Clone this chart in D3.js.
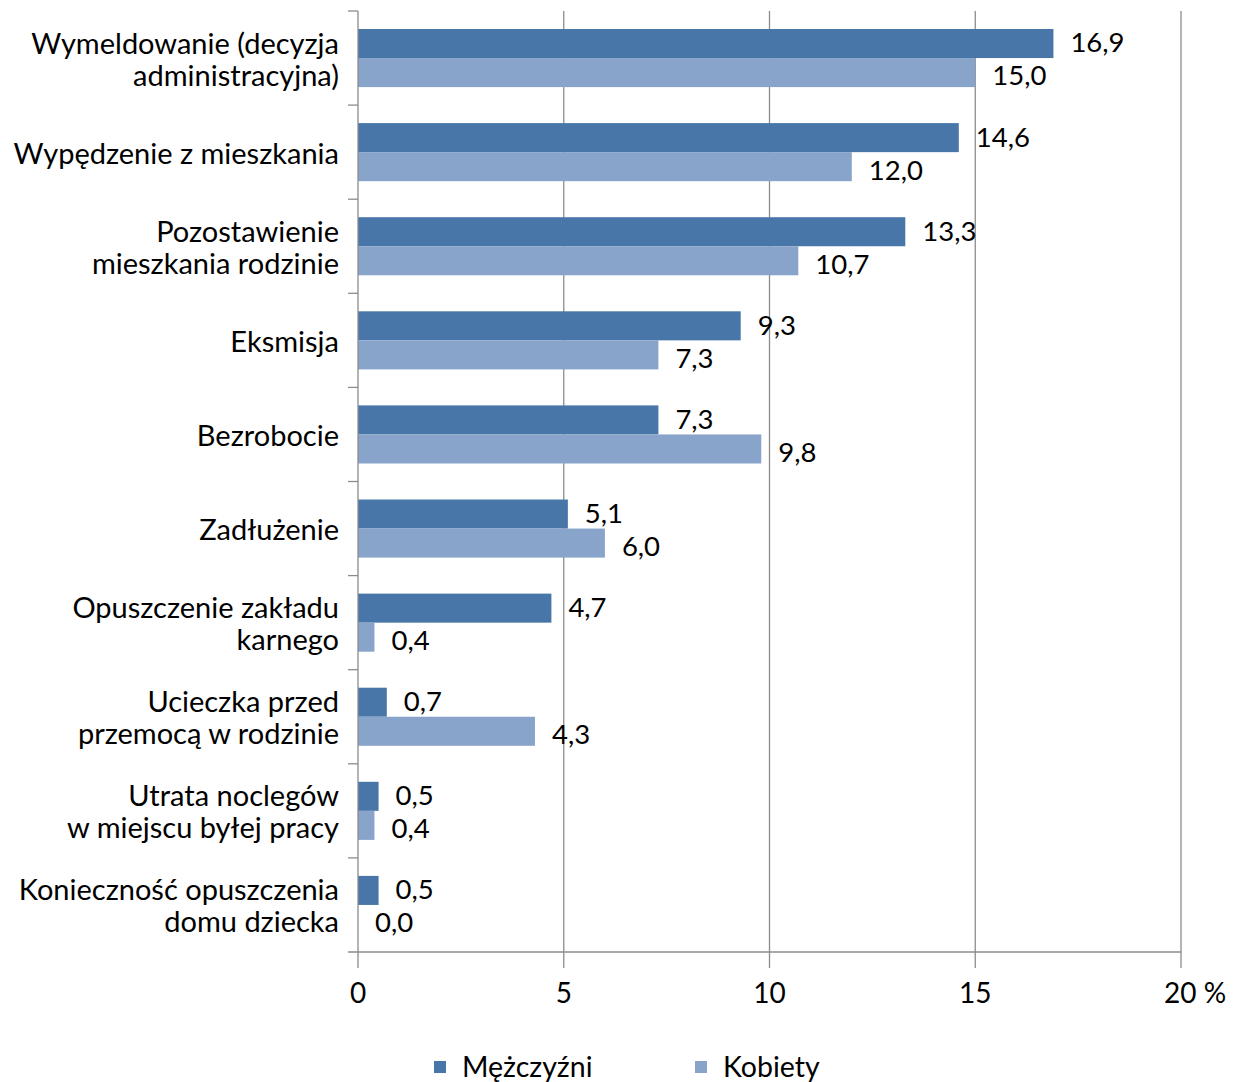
<!DOCTYPE html>
<html><head><meta charset="utf-8">
<script src="https://cdn.jsdelivr.net/npm/d3@7"></script>
<style>body{margin:0;background:#fff}svg{display:block}text{font-family:Lato,"Open Sans",sans-serif;fill:#000}</style>
</head><body><svg id="c" width="1236" height="1082"></svg>
<script>
const categories = [
  ["Wymeldowanie (decyzja","administracyjna)"],
  ["Wypędzenie z mieszkania"],
  ["Pozostawienie","mieszkania rodzinie"],
  ["Eksmisja"],
  ["Bezrobocie"],
  ["Zadłużenie"],
  ["Opuszczenie zakładu","karnego"],
  ["Ucieczka przed","przemocą w rodzinie"],
  ["Utrata noclegów","w miejscu byłej pracy"],
  ["Konieczność opuszczenia","domu dziecka"]
];
const men   = [16.9,14.6,13.3,9.3,7.3,5.1,4.7,0.7,0.5,0.5];
const women = [15.0,12.0,10.7,7.3,9.8,6.0,0.4,4.3,0.4,0.0];
const seriesNames = ["Mężczyźni","Kobiety"];
const tickValues = [0,5,10,15,20];
const tickLabels = ["0","5","10","15","20 %"];

const colors = ["#4876a8","#88a4ca"];
const svg = d3.select("#c");
const x = d3.scaleLinear().domain([0,20]).range([358,1181]);
const y = d3.scaleBand().domain(d3.range(categories.length)).range([11,952]).padding(0);
const inner = d3.scaleBand().domain([0,1]).range([0,y.bandwidth()]).paddingInner(0).paddingOuter(0.62);
const grid = "#8c8c8c";
const labelShift = [-1,3];

// gridlines
svg.append("g").selectAll("line").data(tickValues.slice(1)).join("line")
  .attr("x1",d=>x(d)).attr("x2",d=>x(d)).attr("y1",11).attr("y2",968)
  .attr("stroke",grid).attr("stroke-width",1.3);

// bars
const groups = svg.append("g").selectAll("g").data(categories).join("g")
  .attr("transform",(d,i)=>`translate(0,${y(i)})`);
[men,women].forEach((vals,s)=>{
  groups.append("rect")
    .attr("x",x(0)).attr("y",inner(s))
    .attr("width",(d,i)=>x(vals[i])-x(0)).attr("height",inner.bandwidth())
    .attr("fill",colors[s]);
  groups.append("text")
    .attr("x",(d,i)=>x(vals[i])+17).attr("y",inner(s)+inner.bandwidth()/2+labelShift[s])
    .attr("dy","0.36em").attr("font-size",27.5)
    .text((d,i)=>d3.format(".1f")(vals[i]).replace(".",","));
});

// axes lines
svg.append("line").attr("x1",x(0)).attr("x2",x(0)).attr("y1",11).attr("y2",968).attr("stroke",grid).attr("stroke-width",1.3);
svg.append("line").attr("x1",348).attr("x2",1181).attr("y1",952).attr("y2",952).attr("stroke",grid).attr("stroke-width",1.3);
svg.append("g").selectAll("line").data(d3.range(categories.length)).join("line")
  .attr("x1",348).attr("x2",x(0)).attr("y1",d=>y(d)).attr("y2",d=>y(d))
  .attr("stroke",grid).attr("stroke-width",1.3);

// category labels
const lh = 32;
svg.append("g").selectAll("text").data(categories).join("text")
  .attr("text-anchor","end").attr("font-size",29)
  .attr("transform",(d,i)=>`translate(339,${y(i)+y.bandwidth()/2+1})`)
  .each(function(d){
    const t = d3.select(this);
    d.forEach((line,k)=>{
      t.append("tspan").attr("x",0).attr("y",(k-(d.length-1)/2)*lh).attr("dy","0.36em").text(line);
    });
  });

// tick labels
svg.append("g").selectAll("text").data(tickValues).join("text")
  .attr("x",(d,i)=> i===tickValues.length-1 ? x(d)-17 : x(d))
  .attr("y",993).attr("dy","0.36em").attr("font-size",28)
  .attr("text-anchor",(d,i)=> i===tickValues.length-1 ? "start" : "middle")
  .text((d,i)=>tickLabels[i]);

// legend
const legX = [434,695];
const leg = svg.append("g").selectAll("g").data(seriesNames).join("g")
  .attr("transform",(d,i)=>`translate(${legX[i]},1067)`);
leg.append("rect").attr("x",0).attr("y",-6).attr("width",12).attr("height",12).attr("fill",(d,i)=>colors[i]);
leg.append("text").attr("x",28).attr("y",0).attr("dy","0.36em").attr("font-size",28.5).text(d=>d);
</script></body></html>
